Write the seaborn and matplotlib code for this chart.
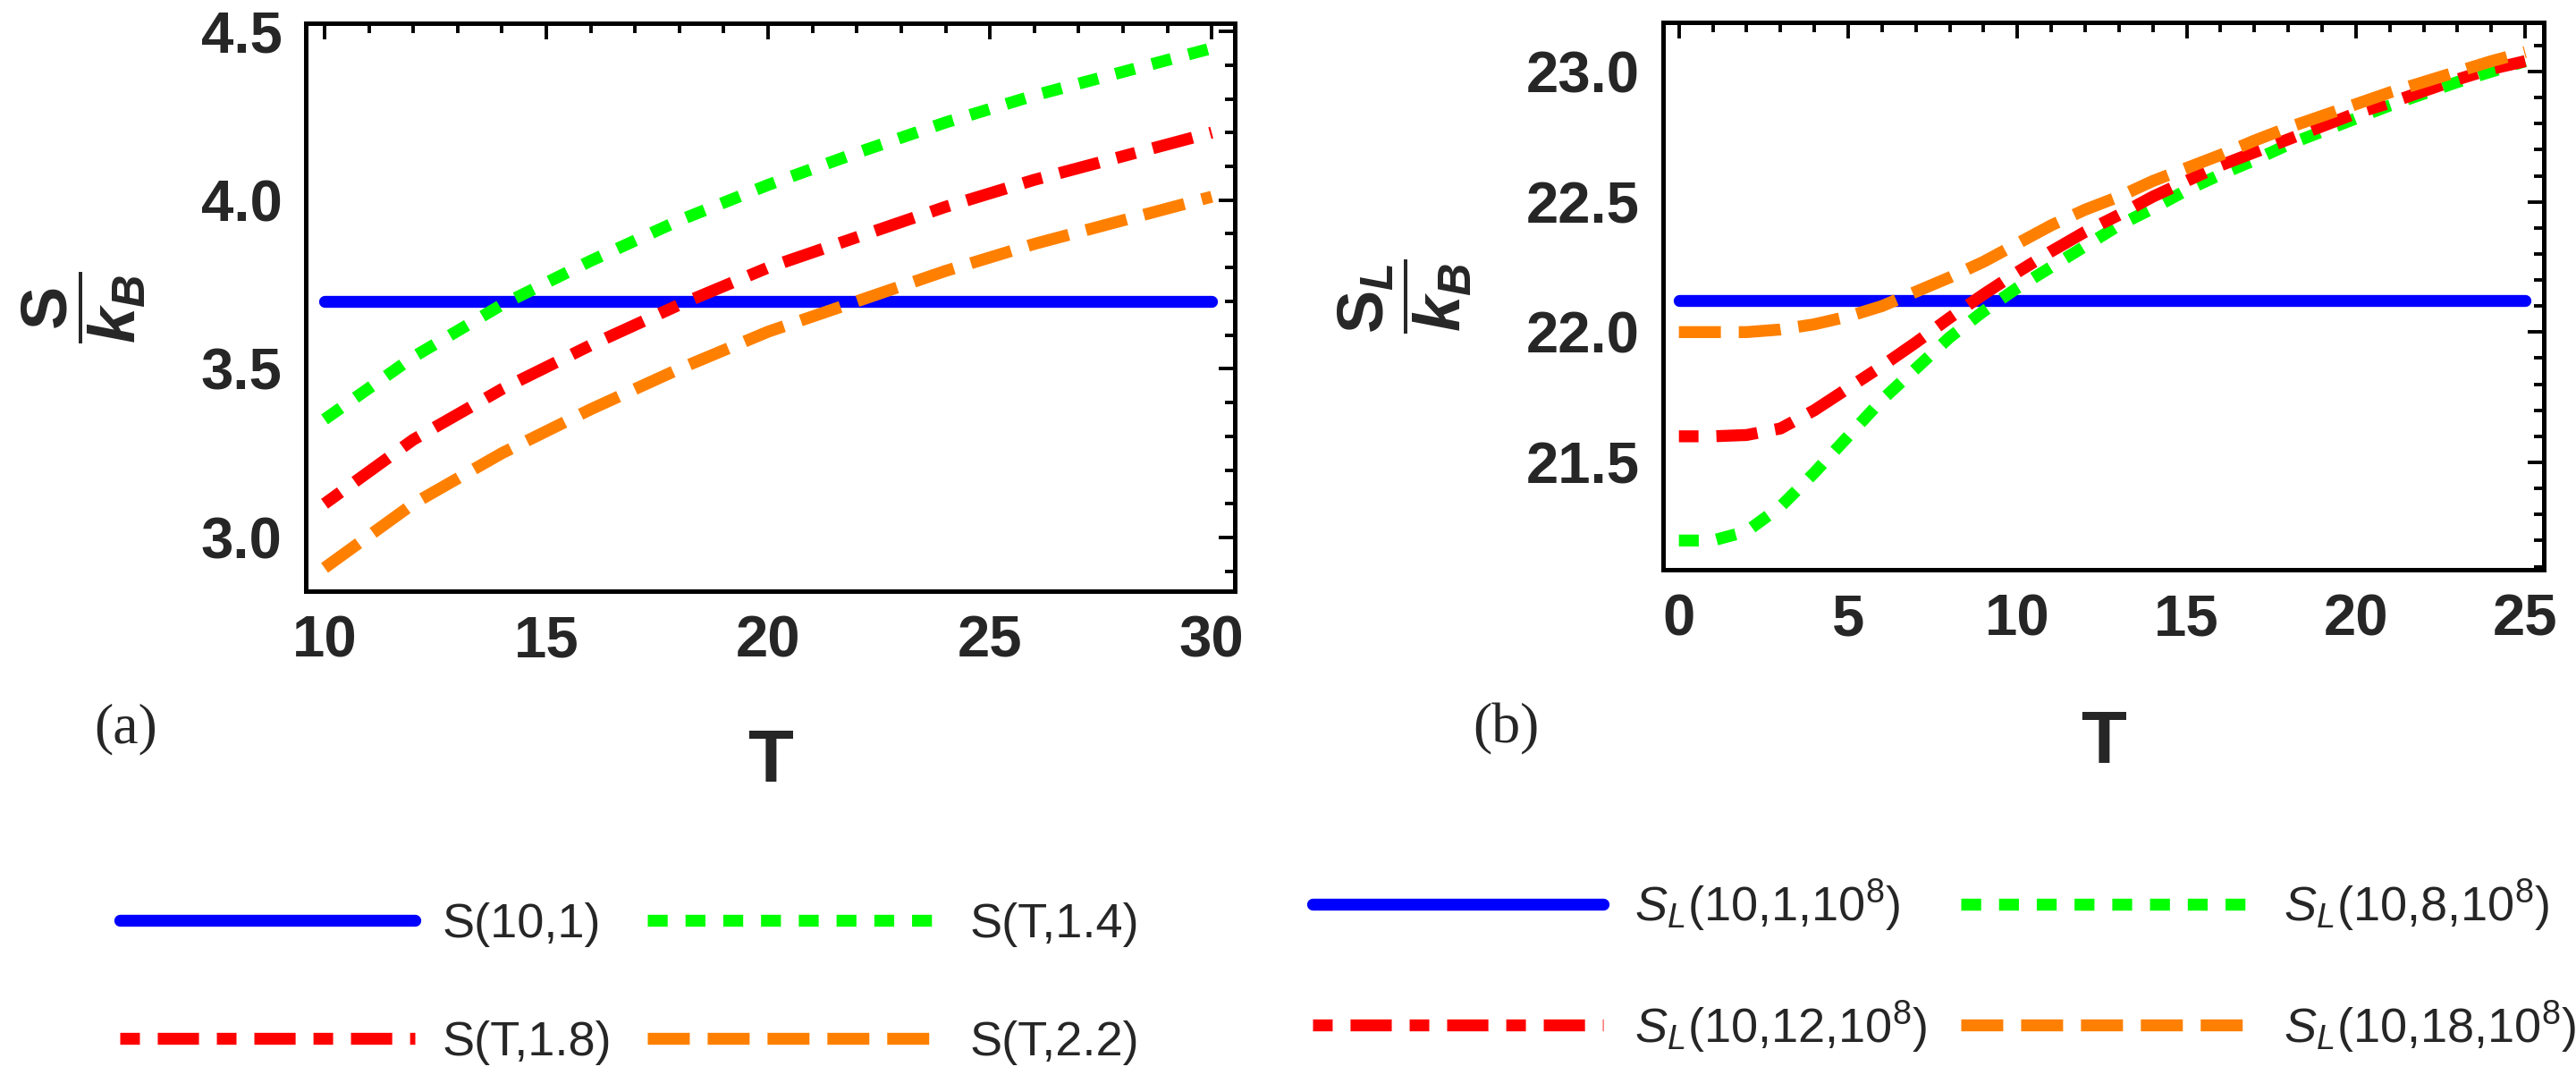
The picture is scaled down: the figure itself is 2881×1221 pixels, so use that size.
import matplotlib
matplotlib.use("Agg")
import matplotlib.pyplot as plt
import numpy as np
import pandas as pd
import seaborn as sns
from matplotlib.ticker import MultipleLocator

# ---------------- panel (a) data ----------------
T_a = [10, 12, 14, 16, 18, 20, 22, 24, 26, 28, 30]
T_a_const = [10, 30]
S_a_const = [3.70, 3.70]                      # S(10,1)
S_a_14 = [3.35, 3.535, 3.69, 3.82, 3.94, 4.045, 4.14, 4.23, 4.31, 4.38, 4.45]   # S(T,1.4)
S_a_18 = [3.10, 3.29, 3.44, 3.57, 3.69, 3.80, 3.89, 3.98, 4.06, 4.13, 4.20]     # S(T,1.8)
S_a_22 = [2.91, 3.10, 3.25, 3.38, 3.50, 3.61, 3.70, 3.79, 3.87, 3.94, 4.01]     # S(T,2.2)
labels_a = ["S(10,1)", "S(T,1.4)", "S(T,1.8)", "S(T,2.2)"]

# ---------------- panel (b) data ----------------
T_b = list(range(0, 26))
T_b_const = [0, 25]
S_b_const = [22.12, 22.12]
S_b_8 = [21.20, 21.20, 21.235, 21.33, 21.46, 21.60, 21.74, 21.86, 21.98, 22.08,
         22.17, 22.25, 22.33, 22.41, 22.475, 22.545, 22.605, 22.66, 22.72, 22.77,
         22.82, 22.87, 22.915, 22.96, 23.00, 23.04]
S_b_12 = [21.60, 21.60, 21.605, 21.63, 21.70, 21.785, 21.87, 21.96, 22.055, 22.145,
          22.23, 22.31, 22.385, 22.45, 22.52, 22.58, 22.64, 22.69, 22.74, 22.79,
          22.84, 22.88, 22.925, 22.97, 23.01, 23.04]
S_b_18 = [22.00, 22.00, 22.00, 22.01, 22.03, 22.06, 22.10, 22.155, 22.21, 22.27,
          22.34, 22.41, 22.47, 22.52, 22.58, 22.63, 22.68, 22.735, 22.785, 22.83,
          22.875, 22.92, 22.96, 23.00, 23.04, 23.075]
labels_b = [r"$\mathsf{S_L}$(10,1,10$^8$)", r"$\mathsf{S_L}$(10,8,10$^8$)",
            r"$\mathsf{S_L}$(10,12,10$^8$)", r"$\mathsf{S_L}$(10,18,10$^8$)"]

colors = ["#0000FF", "#00FF00", "#FF0000", "#FF8000"]
dash_styles = ["", (8.0, 7.2), (7.9, 7.2, 16.6, 7.2), (16.9, 7.2)]

# ---------------- style ----------------
sns.set_style("white")
plt.rcParams["font.family"] = ["Liberation Sans", "DejaVu Sans"]
plt.rcParams["mathtext.fontset"] = "custom"
plt.rcParams["mathtext.rm"] = "Liberation Sans"
plt.rcParams["mathtext.it"] = "Liberation Sans:italic:bold"
plt.rcParams["mathtext.bf"] = "Liberation Sans:bold"
plt.rcParams["mathtext.sf"] = "Liberation Sans:italic"
plt.rcParams["lines.scale_dashes"] = False

DPI = 200
fig = plt.figure(figsize=(2881 / DPI, 1221 / DPI), dpi=DPI)
ax_a = fig.add_axes([0.11871, 0.45864, 0.36064, 0.52007])
ax_b = fig.add_axes([0.64561, 0.47830, 0.34190, 0.50123])

LW = 4.8


def draw(ax, xs_list, ys_list, names):
    frames = []
    for xs, ys, n in zip(xs_list, ys_list, names):
        frames.append(pd.DataFrame({"T": xs, "S": ys, "curve": n}))
    df = pd.concat(frames, ignore_index=True)
    sns.lineplot(data=df, x="T", y="S", hue="curve", style="curve",
                 hue_order=names, style_order=names,
                 palette=dict(zip(names, colors)),
                 dashes=dict(zip(names, dash_styles)),
                 linewidth=LW, ax=ax, legend=False, errorbar=None)


draw(ax_a, [T_a_const, T_a, T_a, T_a], [S_a_const, S_a_14, S_a_18, S_a_22], labels_a)
draw(ax_b, [T_b_const, T_b, T_b, T_b], [S_b_const, S_b_8, S_b_12, S_b_18], labels_b)

ax_a.set_xlim(9.577, 30.52)
ax_a.set_ylim(2.841, 4.524)
ax_b.set_xlim(-0.467, 25.55)
ax_b.set_ylim(21.088, 23.189)

for ax in (ax_a, ax_b):
    ax.xaxis.set_major_locator(MultipleLocator(5))
    ax.xaxis.set_minor_locator(MultipleLocator(1))
    ax.yaxis.set_major_locator(MultipleLocator(0.5))
    ax.yaxis.set_minor_locator(MultipleLocator(0.1))
    ax.tick_params(which="both", direction="in", top=True, right=True,
                   width=1.4, color="black", labelsize=23.5, pad=9.5)
    ax.tick_params(which="major", length=6.6)
    ax.tick_params(which="minor", length=4.0)
    for lab in ax.get_xticklabels() + ax.get_yticklabels():
        lab.set_fontweight("bold")
    for sp in ax.spines.values():
        sp.set_linewidth(1.8)
        sp.set_color("black")
    ax.set_xlabel("T", fontsize=30, fontweight="bold")

ax_a.set_ylabel(r"$\dfrac{\mathbf{S}}{k_B}$", fontsize=26)
ax_b.set_ylabel(r"$\dfrac{\mathbf{S}_L}{k_B}$", fontsize=26)
ax_a.yaxis.set_label_coords(-0.170, 0.5)
ax_b.yaxis.set_label_coords(-0.215, 0.5)
ax_a.xaxis.set_label_coords(0.5, -0.239)
ax_b.xaxis.set_label_coords(0.5, -0.253)

fig.text(0.0489, 0.3325, "(a)", fontsize=23, family="Liberation Serif",
         ha="center", va="center")
fig.text(0.5845, 0.3325, "(b)", fontsize=23, family="Liberation Serif",
         ha="center", va="center")

order = [0, 2, 1, 3]
h_a = ax_a.get_lines()[:4]
h_b = ax_b.get_lines()[:4]
ax_a.legend([h_a[i] for i in order], [labels_a[i] for i in order], ncol=2,
            loc="center left", bbox_to_anchor=(0.0465, 0.0991),
            bbox_transform=fig.transFigure, frameon=False, fontsize=19.5,
            handlelength=6.1, handletextpad=0.55, columnspacing=0.75,
            labelspacing=1.5, borderpad=0, borderaxespad=0)
ax_b.legend([h_b[i] for i in order], [labels_b[i] for i in order], ncol=2,
            loc="center left", bbox_to_anchor=(0.5095, 0.1155),
            bbox_transform=fig.transFigure, frameon=False, fontsize=19.5,
            handlelength=6.0, handletextpad=0.65, columnspacing=0.7,
            labelspacing=1.35, borderpad=0, borderaxespad=0)

fig.savefig("out.png", dpi=DPI)
